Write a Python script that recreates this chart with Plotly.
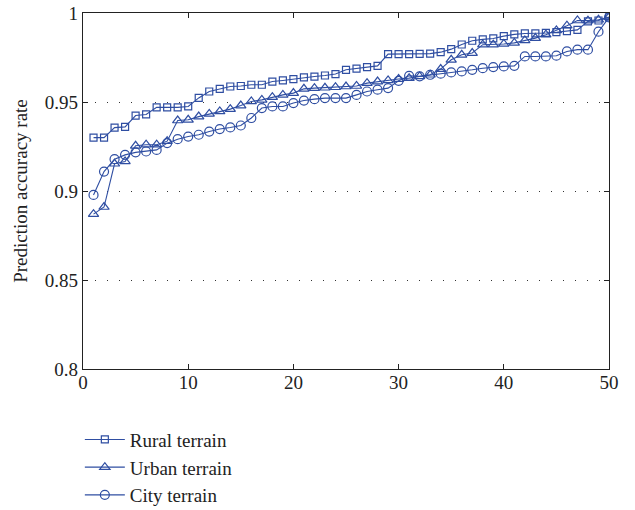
import plotly.graph_objects as go

x = list(range(1, 51))

rural = [0.930, 0.930, 0.9356, 0.936, 0.9424, 0.943, 0.947, 0.947, 0.947, 0.9475,
         0.9523, 0.9559, 0.9574, 0.9587, 0.959, 0.9597, 0.9597, 0.9615, 0.9621, 0.9629,
         0.9638, 0.9643, 0.9649, 0.9657, 0.9681, 0.9687, 0.9696, 0.9703, 0.9769, 0.9769,
         0.9769, 0.977, 0.9772, 0.978, 0.9797, 0.9823, 0.9844, 0.9852, 0.9857, 0.987,
         0.988, 0.9885, 0.9885, 0.9888, 0.9892, 0.9898, 0.9905, 0.9953, 0.9958, 0.9975]

urban = [0.887, 0.891, 0.9153, 0.9166, 0.9254, 0.926, 0.926, 0.928, 0.9396, 0.940,
         0.9418, 0.9433, 0.9447, 0.946, 0.948, 0.9503, 0.9512, 0.9527, 0.954, 0.955,
         0.9574, 0.9578, 0.958, 0.9583, 0.9587, 0.959, 0.9606, 0.9615, 0.9621, 0.9629,
         0.9634, 0.9644, 0.9653, 0.9685, 0.9737, 0.9765, 0.9775, 0.9822, 0.9822, 0.9826,
         0.9832, 0.9846, 0.9859, 0.9878, 0.9902, 0.9929, 0.9958, 0.9957, 0.9962, 0.9977]

city = [0.8978, 0.9109, 0.9179, 0.9203, 0.9217, 0.9222, 0.9231, 0.9269, 0.9291, 0.9306,
        0.9316, 0.9334, 0.9348, 0.9357, 0.9368, 0.941, 0.9466, 0.9475, 0.9475, 0.9494,
        0.9508, 0.9516, 0.9522, 0.9522, 0.9522, 0.954, 0.9559, 0.9569, 0.9578, 0.9619,
        0.9647, 0.9644, 0.9653, 0.9659, 0.9666, 0.9672, 0.9681, 0.969, 0.9696, 0.970,
        0.9703, 0.9756, 0.9756, 0.9756, 0.976, 0.9784, 0.9794, 0.9794, 0.9895, 0.9975]

series = [
    ("Rural terrain", rural, "square-open", 7),
    ("Urban terrain", urban, "triangle-up-open", 9),
    ("City terrain", city, "circle-open", 9),
]

color = "#2F4EA2"
font_family = "Liberation Serif, Times New Roman, serif"

fig = go.Figure()
for name, vals, sym, size in series:
    fig.add_trace(go.Scatter(
        x=x, y=vals, name=name, mode="lines+markers",
        line=dict(color=color, width=1.1),
        marker=dict(symbol=sym, size=size, color=color, line=dict(width=1.2, color=color)),
    ))

fig.update_layout(
    width=635, height=510,
    margin=dict(l=83, r=26, t=13, b=141, autoexpand=False),
    paper_bgcolor="white", plot_bgcolor="white",
    font=dict(family=font_family, size=19, color="#222222"),
    showlegend=True,
    legend=dict(
        x=-0.006, y=-0.145, xanchor="left", yanchor="top",
        bgcolor="rgba(0,0,0,0)", font=dict(size=19, family=font_family),
        tracegroupgap=0, itemwidth=40, tracegroupgap_=None,
    ) if False else dict(
        x=-0.006, y=-0.145, xanchor="left", yanchor="top",
        bgcolor="rgba(0,0,0,0)", font=dict(size=19, family=font_family),
        tracegroupgap=0, itemwidth=40,
    ),
)

fig.update_xaxes(
    range=[0, 50], tickvals=[0, 10, 20, 30, 40, 50],
    ticks="inside", ticklen=5, tickcolor="#222", tickwidth=1,
    showline=True, linecolor="#222", linewidth=1.2, mirror="ticks",
    showgrid=False, zeroline=False,
    tickfont=dict(size=19, family=font_family),
    ticklabelstandoff=-4,
)
fig.update_yaxes(
    range=[0.8, 1.0], tickvals=[0.8, 0.85, 0.9, 0.95, 1.0],
    ticktext=["0.8", "0.85", "0.9", "0.95", "1"],
    ticks="inside", ticklen=5, tickcolor="#222", tickwidth=1,
    showline=True, linecolor="#222", linewidth=1.2, mirror="ticks",
    showgrid=True, gridcolor="#333", gridwidth=1, griddash="1px,11px",
    zeroline=False, ticklabeloverflow="allow",
    title=dict(text="Prediction accuracy rate", font=dict(size=19, family=font_family), standoff=12),
    tickfont=dict(size=19, family=font_family),
)

fig.write_html("out.html", config={"displayModeBar": False},
               post_script="document.body.style.margin='0';")
